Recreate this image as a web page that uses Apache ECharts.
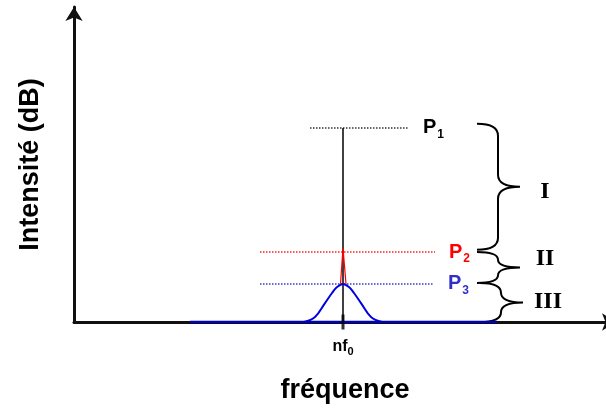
<!DOCTYPE html>
<html>
<head>
<meta charset="utf-8">
<script src="https://cdn.jsdelivr.net/npm/echarts@6/dist/echarts.min.js"></script>
<style>
  html, body { margin: 0; padding: 0; background: #fff; }
  #chart { width: 606px; height: 410px; }
</style>
</head>
<body>
<div id="chart"></div>
<script>
// positions on the frequency axis are offsets from nf0
var nf0 = 0;
var levelNames = ['1', '2', '3'];
var levelValues = [61.6, 22.2, 12.1];
var levelStart = [-33, -83, -83];
var levelEnd = [66, 92, 91];
var levelColors = ['#333', '#ff2020', '#3a3ad0'];
var labelColors = ['#000', '#ff0000', '#3030c8'];

var lineX = [0, 0];
var lineY = [0, 61.6];
var peakX = [-2.5, 0, 3];
var peakY = [12.1, 23.5, 12.1];
var spectrumX = [-39, -28, -18, -11, -6, 0, 6, 11, 18, 28, 39];
var spectrumY = [0, 1.6, 6.0, 9.2, 11.1, 12.1, 11.1, 9.2, 6.0, 1.6, 0];
var floorX = [-153, 154];

var braceLabels = ['I', 'II', 'III'];
var braceX = [134, 134, 137];
var braceTop = [62.9, 22.2, 12.4];
var braceBottom = [22.9, 12.4, 0];
var braceLabelY = [41.3, 20, 6.3];

function pairs(xs, ys) {
  return xs.map(function (x, i) { return [x, ys[i]]; });
}

var series = [];

series.push({
  type: 'line', data: pairs(lineX, lineY), symbol: 'none', z: 2,
  lineStyle: { color: '#000', width: 1.5 }
});

levelValues.forEach(function (v, i) {
  series.push({
    type: 'line', symbol: 'none', z: 1,
    data: [[levelStart[i], v], [levelEnd[i], v]],
    endLabel: {
      show: true, distance: 14,
      formatter: '{p|P}{s|' + levelNames[i] + '}',
      rich: {
        p: { fontSize: 20, fontWeight: 'bold', color: labelColors[i], fontFamily: 'Liberation Sans' },
        s: { fontSize: 12, fontWeight: 'bold', color: labelColors[i], fontFamily: 'Liberation Sans', padding: [14, 0, 0, 1] }
      }
    },
    lineStyle: { color: levelColors[i], width: 1.5, type: [1.5, 1.5] }
  });
});

series.push({
  type: 'line', data: pairs(peakX, peakY), symbol: 'none', z: 4,
  lineStyle: { color: '#ff0000', width: 1.2 }
});

series.push({
  type: 'line', data: pairs(spectrumX, spectrumY), symbol: 'none', smooth: 0.4, z: 3,
  lineStyle: { color: '#0000e0', width: 2 }
});

series.push({
  type: 'line', data: pairs(floorX, [0, 0]), symbol: 'none', z: 6,
  lineStyle: { color: '#0000c0', width: 2.5 }
});

// tick crossing the axis at nf0
series.push({
  type: 'scatter', data: [[nf0, 0]], symbol: 'rect', symbolSize: [3, 15], z: 7,
  itemStyle: { color: '#000' }
});

series.push({
  type: 'custom', z: 5,
  data: braceLabels.map(function (n, i) {
    return [braceX[i], braceTop[i], braceBottom[i], braceLabelY[i]];
  }),
  renderItem: function (params, api) {
    var t = api.coord([api.value(0), api.value(1)]);
    var b = api.coord([api.value(0), api.value(2)]);
    var ly = api.coord([api.value(0), api.value(3)])[1];
    var x0 = t[0], y0 = t[1], y1 = b[1];
    var x1 = x0 + 21, x2 = x0 + 43;
    var ym = (y0 + y1) / 2;
    var r = Math.min(12, (y1 - y0) / 4);
    var d = 'M' + x0 + ' ' + y0 +
      ' Q' + x1 + ' ' + y0 + ' ' + x1 + ' ' + (y0 + r) +
      ' L' + x1 + ' ' + (ym - r) +
      ' Q' + x1 + ' ' + ym + ' ' + x2 + ' ' + ym +
      ' Q' + x1 + ' ' + ym + ' ' + x1 + ' ' + (ym + r) +
      ' L' + x1 + ' ' + (y1 - r) +
      ' Q' + x1 + ' ' + y1 + ' ' + x0 + ' ' + y1;
    return {
      type: 'group',
      children: [
        { type: 'path', shape: { pathData: d },
          style: { fill: 'none', stroke: '#000', lineWidth: 2 } },
        { type: 'text', x: x0 + 68, y: ly,
          style: { text: braceLabels[params.dataIndex], fill: '#000',
            font: 'bold 24px "Liberation Serif"', align: 'center', verticalAlign: 'middle' } }
      ]
    };
  }
});

var chart = echarts.init(document.getElementById('chart'));
chart.setOption({
  animation: false,
  grid: { left: 74, top: 7, width: 542, height: 315, outerBoundsMode: 'none', containLabel: false },
  xAxis: {
    type: 'value', min: -269, max: 273,
    name: 'fréquence', nameLocation: 'middle', nameGap: 55,
    nameTextStyle: { fontSize: 27, fontWeight: 'bold', color: '#000', fontFamily: 'Liberation Sans' },
    axisLine: { lineStyle: { color: '#111', width: 3 }, symbol: ['none', 'arrow'], symbolSize: [13, 14] },
    axisTick: { show: false },
    splitLine: { show: false },
    axisLabel: {
      customValues: [nf0], margin: 15,
      formatter: function () { return '{a|nf}{b|0}'; },
      rich: {
        a: { fontSize: 16, fontWeight: 'bold', color: '#000', fontFamily: 'Liberation Sans' },
        b: { fontSize: 11, fontWeight: 'bold', color: '#000', fontFamily: 'Liberation Sans', padding: [9, 0, 0, 0] }
      }
    }
  },
  yAxis: {
    type: 'value', min: 0, max: 100,
    name: 'Intensité (dB)', nameLocation: 'middle', nameGap: 30,
    nameTextStyle: { fontSize: 27, fontWeight: 'bold', color: '#000', fontFamily: 'Liberation Sans' },
    axisLine: { show: true, onZero: false, lineStyle: { color: '#111', width: 3 }, symbol: ['none', 'arrow'], symbolSize: [13, 14] },
    axisTick: { show: false },
    axisLabel: { show: false },
    splitLine: { show: false }
  },
  series: series
});
</script>
</body>
</html>
